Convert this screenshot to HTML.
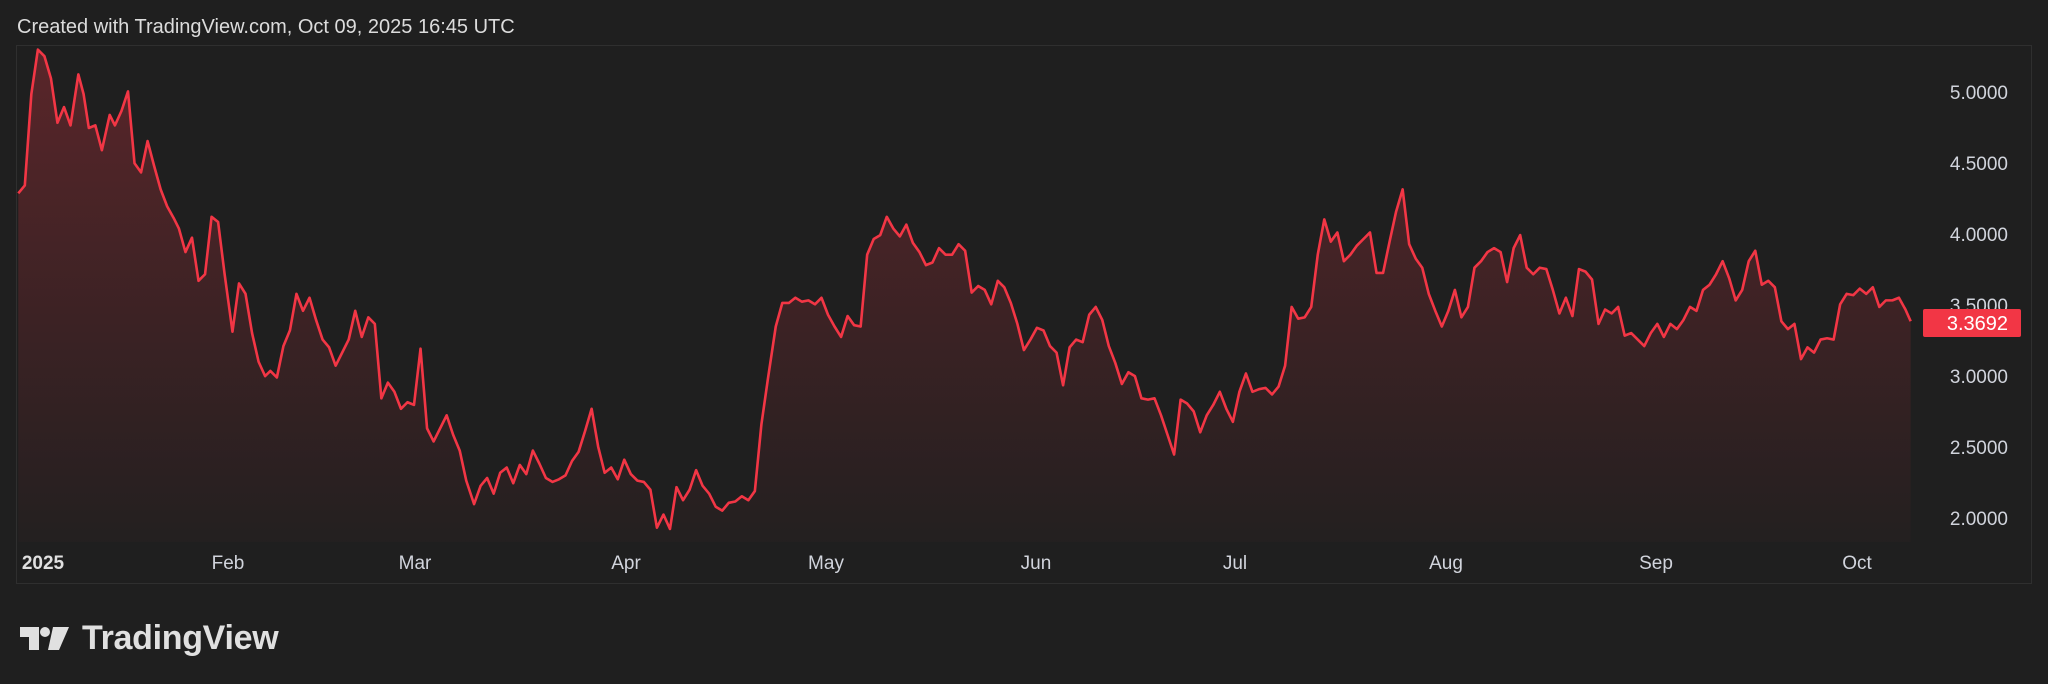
<!DOCTYPE html>
<html><head><meta charset="utf-8"><style>
html,body{margin:0;padding:0;background:#1f1f1f;width:2048px;height:684px;overflow:hidden;font-family:"Liberation Sans",sans-serif;}
</style></head><body>
<svg width="2048" height="684" viewBox="0 0 2048 684" xmlns="http://www.w3.org/2000/svg" style="position:absolute;left:0;top:0">
<defs>
<linearGradient id="g" x1="0" y1="0" x2="0" y2="1">
<stop offset="0" stop-color="#f23645" stop-opacity="0.28"/>
<stop offset="1" stop-color="#f23645" stop-opacity="0.02"/>
</linearGradient>
</defs>
<rect width="2048" height="684" fill="#1f1f1f"/>
<text x="17" y="33" fill="#dcdcdc" font-size="20">Created with TradingView.com, Oct 09, 2025 16:45 UTC</text>
<rect x="16.5" y="45.5" width="2015" height="538" fill="none" stroke="#2f2f2f" stroke-width="1"/>
<g transform="scale(1.306)">
<path id="p" fill="url(#g)" stroke="none" d="M14,148 L19,142 24,72 29,38 34,43 39,60 44,94 49,82 54,96 60,57 64,72 68,98 73,96 78,115 84,88 88,96 93,85 98,70 103,125 108,132 113,108 118,127 123,145 128,158 133,167 137,175 142,193 147,182 152,215 157,210 162,166 167,170 172,210 178,254 183,217 188,225 193,255 198,277 203,288 207,284 212,289 217,265 222,253 227,225 232,238 237,228 242,245 247,260 252,266 257,280 262,270 267,260 272,238 277,258 282,243 287,248 292,305 297,293 302,300 307,313 312,308 317,310 322,267 327,328 332,338 337,328 342,318 347,333 352,345 357,368 363,386 368,372 373,366 378,378 383,362 388,358 393,370 398,356 403,363 408,345 413,355 418,366 423,369 428,367 433,364 438,353 443,346 448,330 453,313 458,342 463,362 468,358 473,367 478,352 483,363 488,368 493,369 498,375 503,404 508,394 513,405 518,373 523,383 528,375 533,360 538,372 543,378 548,388 553,391 558,385 563,384 568,380 573,383 578,376 583,325 588,290 594,250 599,232 604,232 609,228 614,231 619,230 624,233 629,228 634,241 639,250 644,258 649,242 654,249 659,250 664,195 669,183 674,180 679,166 684,175 689,181 694,172 699,186 704,193 709,203 714,201 719,190 724,195 729,195 734,187 739,192 744,224 749,219 754,222 759,233 764,215 769,220 774,232 779,248 784,268 789,260 794,251 799,253 804,265 809,270 814,295 819,266 824,260 829,262 834,241 839,235 844,245 849,265 854,278 859,294 864,285 869,288 874,305 879,306 884,305 889,318 894,333 899,348 904,306 909,309 914,315 919,331 924,318 929,310 934,300 939,313 944,323 949,300 954,286 959,300 964,298 969,297 974,302 979,296 984,280 989,235 994,244 999,243 1004,235 1009,195 1014,168 1019,185 1024,178 1029,200 1034,195 1039,188 1044,183 1049,178 1054,209 1059,209 1064,185 1069,162 1074,145 1079,187 1084,198 1089,205 1094,225 1099,238 1104,250 1109,238 1114,222 1119,243 1124,235 1129,205 1134,200 1139,193 1144,190 1149,193 1154,216 1159,190 1164,180 1169,205 1174,210 1179,205 1184,206 1189,222 1194,240 1199,228 1204,242 1209,206 1214,208 1219,214 1224,248 1229,237 1234,240 1239,235 1244,257 1249,255 1254,260 1259,265 1264,255 1269,248 1274,258 1279,248 1284,252 1289,245 1294,235 1299,238 1304,222 1309,218 1314,210 1319,200 1324,213 1329,230 1334,222 1339,200 1344,192 1349,218 1354,215 1359,220 1364,246 1369,252 1374,248 1379,275 1384,266 1389,270 1394,260 1399,259 1404,260 1409,233 1414,225 1419,226 1424,221 1429,225 1434,220 1439,235 1444,230 1449,230 1454,228 1459,237 1463,246 L1463,415 L14,415 Z"/>
<polyline fill="none" stroke="#f23645" stroke-width="2" stroke-linejoin="round" points="14,148 19,142 24,72 29,38 34,43 39,60 44,94 49,82 54,96 60,57 64,72 68,98 73,96 78,115 84,88 88,96 93,85 98,70 103,125 108,132 113,108 118,127 123,145 128,158 133,167 137,175 142,193 147,182 152,215 157,210 162,166 167,170 172,210 178,254 183,217 188,225 193,255 198,277 203,288 207,284 212,289 217,265 222,253 227,225 232,238 237,228 242,245 247,260 252,266 257,280 262,270 267,260 272,238 277,258 282,243 287,248 292,305 297,293 302,300 307,313 312,308 317,310 322,267 327,328 332,338 337,328 342,318 347,333 352,345 357,368 363,386 368,372 373,366 378,378 383,362 388,358 393,370 398,356 403,363 408,345 413,355 418,366 423,369 428,367 433,364 438,353 443,346 448,330 453,313 458,342 463,362 468,358 473,367 478,352 483,363 488,368 493,369 498,375 503,404 508,394 513,405 518,373 523,383 528,375 533,360 538,372 543,378 548,388 553,391 558,385 563,384 568,380 573,383 578,376 583,325 588,290 594,250 599,232 604,232 609,228 614,231 619,230 624,233 629,228 634,241 639,250 644,258 649,242 654,249 659,250 664,195 669,183 674,180 679,166 684,175 689,181 694,172 699,186 704,193 709,203 714,201 719,190 724,195 729,195 734,187 739,192 744,224 749,219 754,222 759,233 764,215 769,220 774,232 779,248 784,268 789,260 794,251 799,253 804,265 809,270 814,295 819,266 824,260 829,262 834,241 839,235 844,245 849,265 854,278 859,294 864,285 869,288 874,305 879,306 884,305 889,318 894,333 899,348 904,306 909,309 914,315 919,331 924,318 929,310 934,300 939,313 944,323 949,300 954,286 959,300 964,298 969,297 974,302 979,296 984,280 989,235 994,244 999,243 1004,235 1009,195 1014,168 1019,185 1024,178 1029,200 1034,195 1039,188 1044,183 1049,178 1054,209 1059,209 1064,185 1069,162 1074,145 1079,187 1084,198 1089,205 1094,225 1099,238 1104,250 1109,238 1114,222 1119,243 1124,235 1129,205 1134,200 1139,193 1144,190 1149,193 1154,216 1159,190 1164,180 1169,205 1174,210 1179,205 1184,206 1189,222 1194,240 1199,228 1204,242 1209,206 1214,208 1219,214 1224,248 1229,237 1234,240 1239,235 1244,257 1249,255 1254,260 1259,265 1264,255 1269,248 1274,258 1279,248 1284,252 1289,245 1294,235 1299,238 1304,222 1309,218 1314,210 1319,200 1324,213 1329,230 1334,222 1339,200 1344,192 1349,218 1354,215 1359,220 1364,246 1369,252 1374,248 1379,275 1384,266 1389,270 1394,260 1399,259 1404,260 1409,233 1414,225 1419,226 1424,221 1429,225 1434,220 1439,235 1444,230 1449,230 1454,228 1459,237 1463,246"/>
</g>
<g fill="#d1d4dc" font-size="19" text-anchor="end">
<text x="2008" y="99">5.0000</text>
<text x="2008" y="170">4.5000</text>
<text x="2008" y="241">4.0000</text>
<text x="2008" y="312">3.5000</text>
<text x="2008" y="383">3.0000</text>
<text x="2008" y="454">2.5000</text>
<text x="2008" y="525">2.0000</text>
</g>
<rect x="1923" y="309" width="98" height="28" rx="2" fill="#f23645"/>
<text x="2008" y="330" fill="#ffffff" font-size="20" text-anchor="end">3.3692</text>
<g fill="#d1d4dc" font-size="19" text-anchor="middle">
<text x="43" y="569" font-weight="bold" fill="#e0e0e0">2025</text>
<text x="228" y="569">Feb</text>
<text x="415" y="569">Mar</text>
<text x="626" y="569">Apr</text>
<text x="826" y="569">May</text>
<text x="1036" y="569">Jun</text>
<text x="1235" y="569">Jul</text>
<text x="1446" y="569">Aug</text>
<text x="1656" y="569">Sep</text>
<text x="1857" y="569">Oct</text>
</g>
<g fill="#e0e0e0">
<path d="M20,627 h19 v23 h-10 v-13 h-9 z"/>
<circle cx="45" cy="632" r="5"/>
<path d="M53,627 h16 l-10 23 h-11 z"/>
</g>
<text x="82" y="649" fill="#e0e0e0" font-size="34" font-weight="bold" letter-spacing="-0.3">TradingView</text>
</svg>
</body></html>
